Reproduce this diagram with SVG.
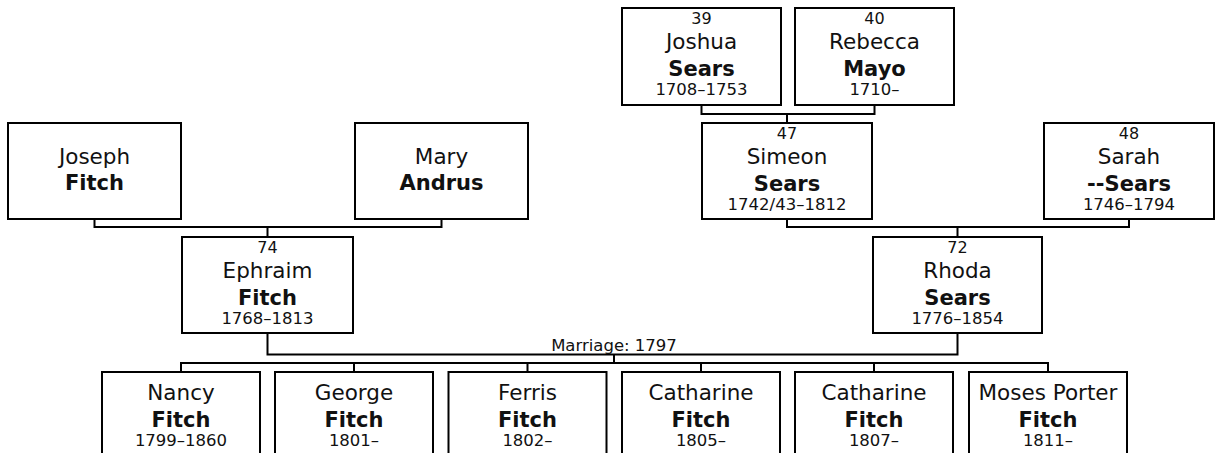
<svg xmlns="http://www.w3.org/2000/svg" width="1219" height="453" viewBox="0 0 1219 453">
<style>
  .box { fill: #fff; stroke: #000; stroke-width: 2; }
  .conn { fill: none; stroke: #000; stroke-width: 2; }
  text { font-family: "DejaVu Sans", Verdana, sans-serif; fill: #111; text-anchor: middle; }
  .num { font-size: 16px; }
  .name { font-size: 21.5px; }
  .sur { font-size: 21px; font-weight: bold; }
  .date { font-size: 16.5px; }
  .lbl { font-size: 16.5px; }
</style>
<rect width="1219" height="453" fill="#fff"/>
<g id="connectors">
  <path class="conn" d="M701.5 106 V114 H874.5 V106 M787 114 V122"/>
  <path class="conn" d="M94.5 220 V227 H441.5 V220 M267.5 227 V236"/>
  <path class="conn" d="M787 220 V227 H1129 V220 M957.5 227 V236"/>
  <path class="conn" d="M267.5 334 V354.5 H957.5 V334 M614 354.5 V363"/>
  <path class="conn" d="M181 371 V363 H1048 V371 M354 363 V371 M527.5 363 V371 M701 363 V371 M874 363 V371"/>
  <text class="lbl" x="614" y="351">Marriage: 1797</text>
</g>
<g id="joshua">
  <rect class="box" x="622" y="8" width="159" height="97"/>
  <text class="num" x="701.5" y="24">39</text>
  <text class="name" x="701.5" y="49">Joshua</text>
  <text class="sur" x="701.5" y="76">Sears</text>
  <text class="date" x="701.5" y="95">1708–1753</text>
</g>
<g id="rebecca">
  <rect class="box" x="795" y="8" width="159" height="97"/>
  <text class="num" x="874.5" y="24">40</text>
  <text class="name" x="874.5" y="49">Rebecca</text>
  <text class="sur" x="874.5" y="76">Mayo</text>
  <text class="date" x="874.5" y="95">1710–</text>
</g>
<g id="joseph">
  <rect class="box" x="8" y="123" width="173" height="96"/>
  <text class="name" x="94.5" y="164">Joseph</text>
  <text class="sur" x="94.5" y="190">Fitch</text>
</g>
<g id="mary">
  <rect class="box" x="355" y="123" width="173" height="96"/>
  <text class="name" x="441.5" y="164">Mary</text>
  <text class="sur" x="441.5" y="190">Andrus</text>
</g>
<g id="simeon">
  <rect class="box" x="702" y="123" width="170" height="96"/>
  <text class="num" x="787" y="139">47</text>
  <text class="name" x="787" y="164">Simeon</text>
  <text class="sur" x="787" y="191">Sears</text>
  <text class="date" x="787" y="210">1742/43–1812</text>
</g>
<g id="sarah">
  <rect class="box" x="1044" y="123" width="170" height="96"/>
  <text class="num" x="1129" y="139">48</text>
  <text class="name" x="1129" y="164">Sarah</text>
  <text class="sur" x="1129" y="191">--Sears</text>
  <text class="date" x="1129" y="210">1746–1794</text>
</g>
<g id="ephraim">
  <rect class="box" x="182" y="237" width="171" height="96"/>
  <text class="num" x="267.5" y="253">74</text>
  <text class="name" x="267.5" y="278">Ephraim</text>
  <text class="sur" x="267.5" y="305">Fitch</text>
  <text class="date" x="267.5" y="324">1768–1813</text>
</g>
<g id="rhoda">
  <rect class="box" x="873" y="237" width="169" height="96"/>
  <text class="num" x="957.5" y="253">72</text>
  <text class="name" x="957.5" y="278">Rhoda</text>
  <text class="sur" x="957.5" y="305">Sears</text>
  <text class="date" x="957.5" y="324">1776–1854</text>
</g>
<g id="nancy">
  <rect class="box" x="102" y="372" width="158" height="100"/>
  <text class="name" x="181" y="400">Nancy</text>
  <text class="sur" x="181" y="427">Fitch</text>
  <text class="date" x="181" y="446">1799–1860</text>
</g>
<g id="george">
  <rect class="box" x="275" y="372" width="158" height="100"/>
  <text class="name" x="354" y="400">George</text>
  <text class="sur" x="354" y="427">Fitch</text>
  <text class="date" x="354" y="446">1801–</text>
</g>
<g id="ferris">
  <rect class="box" x="448.5" y="372" width="158" height="100"/>
  <text class="name" x="527.5" y="400">Ferris</text>
  <text class="sur" x="527.5" y="427">Fitch</text>
  <text class="date" x="527.5" y="446">1802–</text>
</g>
<g id="catharine1">
  <rect class="box" x="622" y="372" width="158" height="100"/>
  <text class="name" x="701" y="400">Catharine</text>
  <text class="sur" x="701" y="427">Fitch</text>
  <text class="date" x="701" y="446">1805–</text>
</g>
<g id="catharine2">
  <rect class="box" x="795" y="372" width="158" height="100"/>
  <text class="name" x="874" y="400">Catharine</text>
  <text class="sur" x="874" y="427">Fitch</text>
  <text class="date" x="874" y="446">1807–</text>
</g>
<g id="moses">
  <rect class="box" x="969" y="372" width="158" height="100"/>
  <text class="name" x="1048" y="400">Moses Porter</text>
  <text class="sur" x="1048" y="427">Fitch</text>
  <text class="date" x="1048" y="446">1811–</text>
</g>
</svg>
